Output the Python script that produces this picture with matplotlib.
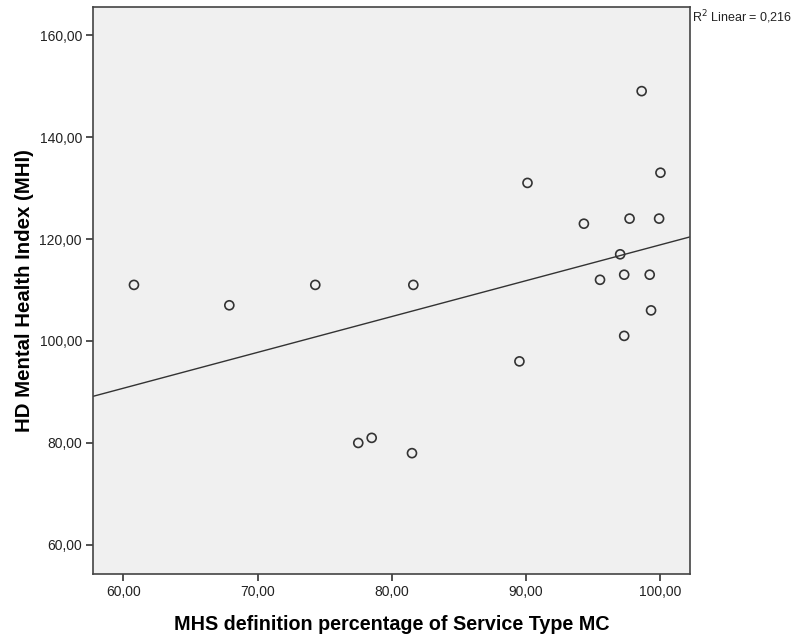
import numpy as np
import matplotlib
matplotlib.use("Agg")
from matplotlib import pyplot as plt
import matplotlib.ticker as ticker

plt.rcParams['font.family'] = ['Liberation Sans', 'DejaVu Sans']

# MHS definition percentage (MC) vs HD mental health index
mhs_pct = [60.8, 67.9, 74.3, 81.6, 77.5, 78.5, 81.5, 89.5, 90.1, 94.3,
           95.5, 97.0, 97.3, 97.7, 97.3, 98.6, 100.0, 99.9, 99.2, 99.3]
mhi = [111, 107, 111, 111, 80, 81, 78, 96, 131, 123,
       112, 117, 113, 124, 101, 149, 133, 124, 113, 106]
r2_text = 'R$^2$ Linear = 0,216'

fig = plt.figure(figsize=(8.03, 6.39), dpi=100)
ax = fig.add_axes([93/803, 1-574/639, (690-93)/803, (574-7)/639])
ax.set_facecolor('#F0F0F0')

ax.scatter(mhs_pct, mhi, s=42, facecolors='none', edgecolors='#333333',
           linewidths=1.2, zorder=3)

# least squares fit line across the full x range
xlim = (57.75, 102.2)
slope, icpt = np.polyfit(mhs_pct, mhi, 1)
xs = np.array(xlim)
ax.plot(xs, slope*xs + icpt, color='#333333', lw=1.0, zorder=2)

ax.set_xlim(*xlim)
ax.set_ylim(54.3, 165.5)
ax.xaxis.set_major_locator(ticker.MultipleLocator(10))
ax.yaxis.set_major_locator(ticker.MultipleLocator(20))
fmt = ticker.FuncFormatter(lambda v, p: ('%.2f' % v).replace('.', ','))
ax.xaxis.set_major_formatter(fmt)
ax.yaxis.set_major_formatter(fmt)
ax.tick_params(direction='out', length=5, width=1.2, color='#333333',
               labelsize=10, labelcolor='#222222', pad=3)

for s in ax.spines.values():
    s.set_color('#444444')
    s.set_linewidth(1.2)

ax.set_xlabel('MHS definition percentage of Service Type MC', fontsize=14.2,
              fontweight='bold', labelpad=11.5)
ax.set_ylabel('HD Mental Health Index (MHI)', fontsize=14.7, fontweight='bold',
              labelpad=4)

fig.text(692/803, 1-17/639, r2_text, fontsize=9, ha='left', va='center',
         color='#222222')

fig.savefig('out.png', dpi=100)
